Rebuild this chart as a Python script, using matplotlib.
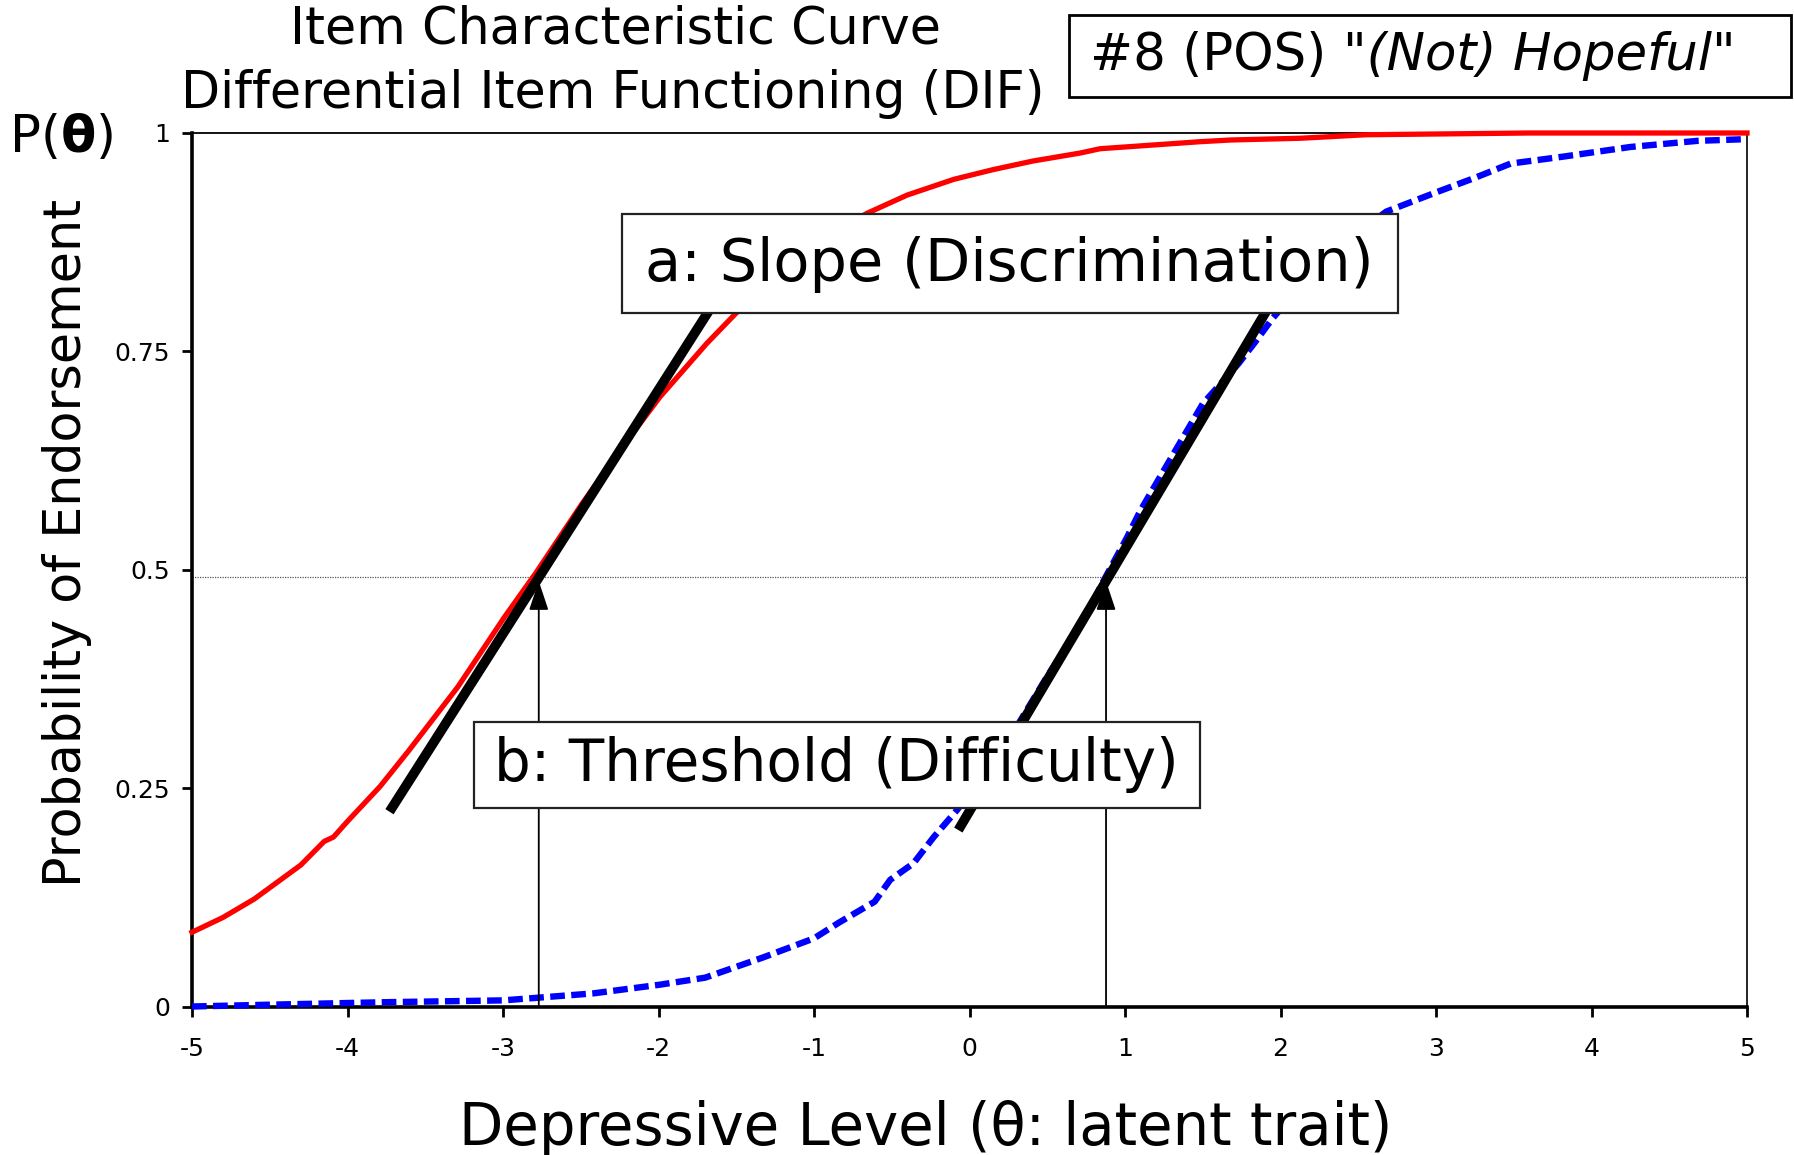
import matplotlib
matplotlib.use("Agg")
import matplotlib.pyplot as plt
from matplotlib.patches import Rectangle, FancyArrowPatch

# ---------------- data ----------------
x_ticks = [-5, -4, -3, -2, -1, 0, 1, 2, 3, 4, 5]
x_tick_labels = ["-5", "-4", "-3", "-2", "-1", "0", "1", "2", "3", "4", "5"]
y_ticks = [0, 0.25, 0.5, 0.75, 1]
y_tick_labels = ["0", "0.25", "0.5", "0.75", "1"]

red_theta = [-5.0, -4.80, -4.60, -4.30, -4.15, -4.09, -4.00, -3.79, -3.61, -3.29,
             -2.99, -2.79, -2.49, -2.23, -1.99, -1.69, -1.50, -1.10, -0.66, -0.40,
             -0.10, 0.15, 0.41, 0.71, 0.84, 1.48, 1.68, 2.13, 2.55, 3.60, 5.0]
red_p = [0.085, 0.102, 0.123, 0.162, 0.189, 0.194, 0.212, 0.252, 0.292, 0.366,
         0.446, 0.496, 0.576, 0.641, 0.698, 0.759, 0.794, 0.862, 0.908, 0.929,
         0.947, 0.958, 0.968, 0.977, 0.982, 0.990, 0.992, 0.994, 0.998, 1.0, 1.0]

blue_theta = [-5.0, -4.52, -4.0, -3.73, -3.0, -2.78, -2.42, -1.99, -1.70, -1.33,
              -1.00, -0.84, -0.61, -0.51, -0.36, -0.23, -0.08, 0.20, 0.50, 0.71,
              0.87, 1.01, 1.10, 1.29, 1.50, 1.73, 1.83, 1.95, 2.30, 2.68, 3.00,
              3.24, 3.48, 3.82, 4.25, 4.68, 5.0]
blue_p = [0.000, 0.002, 0.004, 0.005, 0.007, 0.010, 0.015, 0.025, 0.033, 0.056,
          0.078, 0.096, 0.120, 0.145, 0.164, 0.194, 0.225, 0.290, 0.378, 0.435,
          0.490, 0.536, 0.568, 0.626, 0.690, 0.736, 0.759, 0.788, 0.860, 0.910, 0.932,
          0.948, 0.965, 0.973, 0.984, 0.991, 0.993]

slope_a_theta = [-3.73, -1.52]
slope_a_p = [0.223, 0.84]
slope_b_theta = [-0.072, 2.055]
slope_b_p = [0.202, 0.84]

threshold_theta = [-2.77, 0.878]
threshold_p = 0.487
half_line_p = 0.492

title_lines = ["Item Characteristic Curve", "Differential Item Functioning (DIF)"]
item_label_plain = "#8 (POS) "
item_label_italic = "\"(Not) Hopeful\""
xlabel = "Depressive Level (\u03b8: latent trait)"
ylabel = "Probability of Endorsement"
box_a_text = "a: Slope (Discrimination)"
box_b_text = "b: Threshold (Difficulty)"

# ---------------- figure ----------------
plt.rcParams['font.family'] = ['DejaVu Sans']
W, H = 1794, 1155
fig = plt.figure(figsize=(W / 100, H / 100), dpi=100)
fig.patch.set_facecolor('white')

ax = fig.add_axes([192 / W, 1 - 1006.5 / H, (1747 - 192) / W, (1006.5 - 133) / H])
ax.set_xlim(-5, 5)
ax.set_ylim(0, 1)

ax.spines['left'].set_linewidth(2.6)
ax.spines['bottom'].set_linewidth(2.6)
ax.spines['top'].set_linewidth(1.3)
ax.spines['right'].set_linewidth(1.2)
for s in ax.spines.values():
    s.set_color('black')
    s.set_zorder(2)

ax.set_xticks(x_ticks)
ax.set_xticklabels(x_tick_labels)
ax.set_yticks(y_ticks)
ax.set_yticklabels(y_tick_labels)
ax.tick_params(axis='x', direction='out', length=7, width=2, pad=15, labelsize=18)
ax.tick_params(axis='y', direction='out', length=7, width=2, pad=9, labelsize=18)

ax.plot([-5, 5], [half_line_p, half_line_p], color='#555555', lw=0.9,
        linestyle=(0, (1, 1)), zorder=1)

ax.plot(red_theta, red_p, color='#FF0000', lw=3.8, zorder=4, clip_on=False,
        solid_joinstyle='round')
ax.plot(blue_theta, blue_p, color='#0000FF', lw=4.6, zorder=4, clip_on=False,
        dashes=(2.3, 1.0), dash_capstyle='butt')

for t in threshold_theta:
    arr = FancyArrowPatch((t, 0), (t, threshold_p),
                          arrowstyle='-|>,head_length=0.6,head_width=0.2',
                          mutation_scale=30, lw=1.3, color='black',
                          shrinkA=0, shrinkB=0, zorder=5)
    ax.add_patch(arr)

ax.plot(slope_a_theta, slope_a_p, color='black', lw=7, solid_capstyle='butt', zorder=6)
ax.plot(slope_b_theta, slope_b_p, color='black', lw=7, solid_capstyle='butt', zorder=6)

ax.add_patch(Rectangle((-2.235, 0.794), 2.756 + 2.235, 0.907 - 0.794,
                       facecolor='white', edgecolor='#222222', lw=1.6, zorder=8))
ax.text(0.256, 0.850, box_a_text, ha='center', va='center', fontsize=42.5, zorder=9)

ax.add_patch(Rectangle((-3.187, 0.227), 1.482 + 3.187, 0.326 - 0.227,
                       facecolor='white', edgecolor='#222222', lw=1.6, zorder=8))
ax.text(-0.855, 0.2765, box_b_text, ha='center', va='center', fontsize=41.8, zorder=9)

fig.text(615.5 / W, 1 - 44 / H, title_lines[0], ha='center', va='baseline', fontsize=36.5)
fig.text(612.8 / W, 1 - 108 / H, title_lines[1], ha='center', va='baseline', fontsize=36.5)

fig.patches.append(Rectangle((1069 / W, 1 - 97 / H), (1791 - 1069) / W, (97 - 15) / H,
                             transform=fig.transFigure, facecolor='white',
                             edgecolor='black', lw=2, figure=fig))
t1 = fig.text(1090 / W, 1 - 70 / H, item_label_plain, ha='left', va='baseline', fontsize=37)
fig.canvas.draw()
bb = t1.get_window_extent(renderer=fig.canvas.get_renderer())
fig.text(bb.x1 / W, 1 - 70 / H, item_label_italic, ha='left', va='baseline',
         fontsize=37, style='italic')

# P(theta) with bold theta
tp = fig.text(10 / W, 1 - 152 / H, "P(", ha='left', va='baseline', fontsize=37)
fig.canvas.draw()
r = fig.canvas.get_renderer()
b1 = tp.get_window_extent(renderer=r)
tth = fig.text(b1.x1 / W, 1 - 152 / H, "\u03b8", ha='left', va='baseline',
               fontsize=37, fontweight='bold')
fig.canvas.draw()
b2 = tth.get_window_extent(renderer=r)
fig.text(b2.x1 / W, 1 - 152 / H, ")", ha='left', va='baseline', fontsize=37)

fig.text(925.5 / W, 1 - 1145 / H, xlabel, ha='center', va='baseline', fontsize=41.5)
fig.text(67 / W, 1 - 543 / H, ylabel, ha='center', va='center', rotation=90, fontsize=36.5)

fig.savefig("out.png", dpi=100, facecolor='white')
